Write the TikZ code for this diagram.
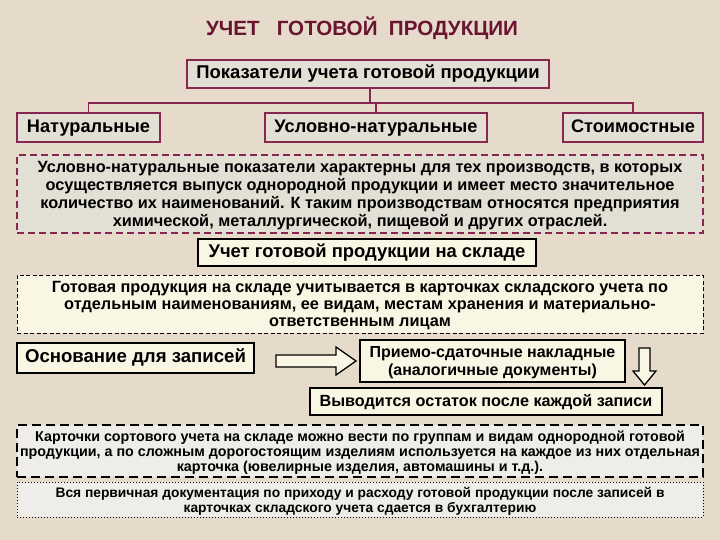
\documentclass[tikz,border=0pt]{standalone}
\usepackage{fontspec}
\setmainfont{Liberation Sans}
\usetikzlibrary{positioning}
\definecolor{bg}{RGB}{230,218,202}
\definecolor{maroon}{RGB}{105,20,48}
\definecolor{mborder}{RGB}{135,38,80}
\definecolor{greyfill}{RGB}{226,223,212}
\definecolor{cream}{RGB}{250,246,228}
\definecolor{lightgrey}{RGB}{238,237,233}
\tikzset{
  one/.style={text height=0.95em, text depth=0pt},
  multi/.style={align=center, text depth=-4pt},
  mbox/.style={draw=mborder, line width=1.6pt, fill=greyfill, inner sep=0pt, one, font=\bfseries\fontsize{18.2}{20}\selectfont},
  bbox/.style={draw=black, line width=1.4pt, fill=cream, inner sep=0pt, font=\bfseries\fontsize{17.5}{20}\selectfont},
  conn/.style={draw=mborder, line width=1.4pt},
  hollow/.style={draw=black, line width=1.3pt, fill=cream, line join=miter}
}
\begin{document}
\begin{tikzpicture}[x=1pt,y=-1pt]
\fill[bg] (0,0) rectangle (720,540);
\useasboundingbox (0,0) rectangle (720,540);

\node[text=maroon, one, font=\bfseries\fontsize{20.6}{22}\selectfont] (title) at (362,31) {УЧЕТ\ \ \ ГОТОВОЙ\ \ ПРОДУКЦИИ};

\node[mbox, minimum width=362pt, minimum height=28pt, font=\bfseries\fontsize{18.5}{20}\selectfont] (top) at (368,74) {Показатели учета готовой продукции};
\node[mbox, minimum width=143pt, minimum height=29pt] (nat) at (88.5,127.5) {Натуральные};
\node[mbox, minimum width=222pt, minimum height=29pt] (unat) at (376,127.5) {Условно-натуральные};
\node[mbox, minimum width=140pt, minimum height=29pt] (cost) at (633,127.5) {Стоимостные};

\coordinate (j) at (370,103);
\draw[conn] (top.south -| j) -- (j);
\draw[conn] (nat.north) |- (j) -| (cost.north);
\draw[conn] (j) -| (unat.north);

\node[draw=mborder, line width=1.6pt, dash pattern=on 7pt off 4pt, fill=greyfill, minimum width=686pt, minimum height=78pt, inner sep=0pt, multi, font=\bfseries\fontsize{16.3}{18}\selectfont] (desc) at (360,194)
{Условно-натуральные показатели характерны для тех производств, в которых\\
осуществляется выпуск однородной продукции и имеет место значительное\\
количество их наименований. К таким производствам относятся предприятия\\
химической, металлургической, пищевой и других отраслей.};

\node[bbox, one, minimum width=338pt, minimum height=27pt, font=\bfseries\fontsize{18.4}{20}\selectfont] (sklad) at (367,252.5) {Учет готовой продукции на складе};

\node[draw=black, line width=0.8pt, dash pattern=on 4pt off 2.5pt, fill=cream, minimum width=686pt, minimum height=58pt, inner sep=0pt, multi, font=\bfseries\fontsize{16.3}{17}\selectfont] (card) at (360,304)
{Готовая продукция на складе учитывается в карточках складского учета по\\
отдельным наименованиям, ее видам, местам хранения и материально-\\
ответственным лицам};

\node[bbox, one, minimum width=237pt, minimum height=30pt, font=\bfseries\fontsize{18.6}{20}\selectfont] (osn) at (135.5,358) {Основание для записей};
\node[bbox, minimum width=265pt, minimum height=42pt, multi, font=\bfseries\fontsize{16}{18}\selectfont] (prim) at (492.5,361)
{Приемо-сдаточные накладные\\(аналогичные документы)};
\node[bbox, one, minimum width=352pt, minimum height=27pt, font=\bfseries\fontsize{16.2}{17}\selectfont] (ost) at (486,401.5) {Выводится остаток после каждой записи};

% hollow right arrow
\draw[hollow] (276,355) -- (336,355) -- (336,347) -- (356,361) -- (336,375) -- (336,367) -- (276,367) -- cycle;
% hollow down arrow
\draw[hollow] (639,348) -- (650,348) -- (650,371) -- (656,371) -- (644.5,385) -- (633,371) -- (639,371) -- cycle;

\node[draw=black, line width=1.8pt, dash pattern=on 9pt off 5pt, fill=lightgrey, minimum width=686pt, minimum height=52pt, inner sep=0pt, multi, font=\bfseries\fontsize{14.3}{15}\selectfont] (sort) at (360,451)
{Карточки сортового учета на складе можно вести по группам и видам однородной готовой\\
продукции, а по сложным дорогостоящим изделиям используется на каждое из них отдельная\\
карточка (ювелирные изделия, автомашины и т.д.).};

\node[draw=black, line width=1pt, dotted, fill=lightgrey, minimum width=686pt, minimum height=35pt, inner sep=0pt, multi, font=\bfseries\fontsize{13.8}{15}\selectfont] (perv) at (360,499.5)
{Вся первичная документация по приходу и расходу готовой продукции после записей в\\
карточках складского учета сдается в бухгалтерию};
\end{tikzpicture}
\end{document}
